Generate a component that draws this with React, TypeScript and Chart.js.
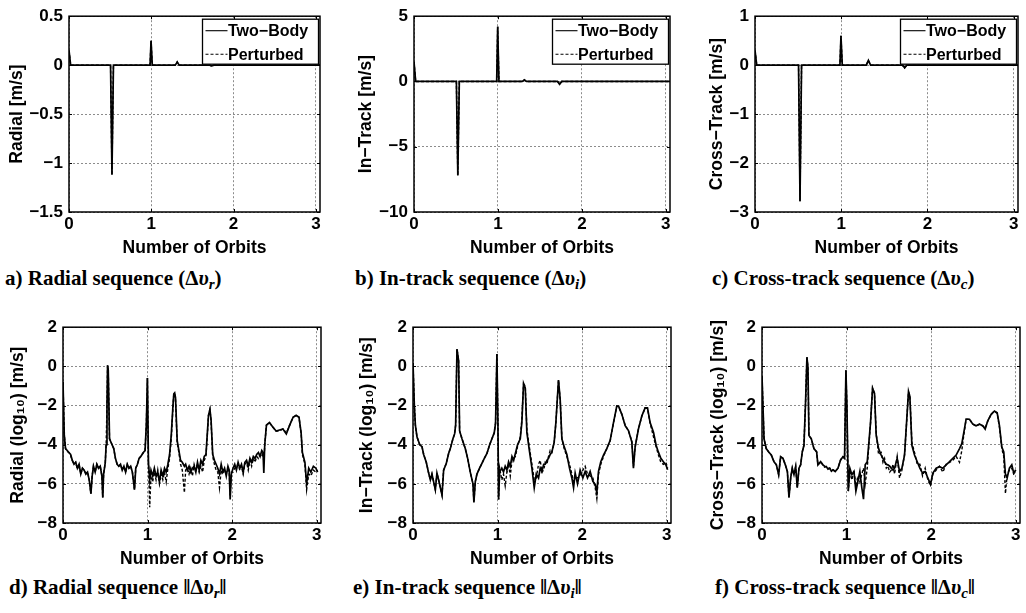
import React, { useEffect, useRef } from 'react';
import { Chart, registerables } from 'chart.js';

Chart.register(...registerables);

const SANS = '"Liberation Sans", Arial, Helvetica, sans-serif';
const SERIF = '"Liberation Serif", "Times New Roman", Times, serif';

// ---------- shared ticks ----------
const X_TICKS = [0, 1, 2, 3];
const X_MAX = 3.05;
const RADIAL_YTICKS = [-1.5, -1, -0.5, 0, 0.5];
const INTRACK_YTICKS = [-10, -5, 0, 5];
const CROSS_YTICKS = [-3, -2, -1, 0, 1];
const LOG_YTICKS = [-8, -6, -4, -2, 0, 2];

// ---------- top row: impulse sequences (m/s) ----------
const TOP_X = [0, 0.02, 0.505, 0.522, 0.54, 0.985, 0.997, 1.012, 1.29, 1.315, 1.34, 1.71, 1.735, 1.76, 3.05];
const RADIAL_TWO = [0.15, 0, 0, -1.12, 0, 0, 0.25, 0, 0, 0.03, 0, 0, -0.008, 0, 0];
const RADIAL_PERT = [0.15, 0, 0, -1.12, 0, 0, 0.25, 0, 0, 0.035, 0, 0, -0.01, 0, 0];
const INTRACK_TWO = [1.5, 0, 0, -7.2, 0, 0, 4.2, 0, 0, 0.12, 0, 0, -0.22, 0, 0];
const INTRACK_PERT = [1.5, 0, 0, -7.2, 0, 0, 4.2, 0, 0, 0.1, 0, 0, -0.2, 0, 0];
const CROSS_TWO = [0.3, 0, 0, -2.78, 0, 0, 0.6, 0, 0, 0.1, 0, 0, -0.05, 0, 0];
const CROSS_PERT = [0.3, 0, 0, -2.78, 0, 0, 0.6, 0, 0, 0.09, 0, 0, -0.06, 0, 0];

// ---------- bottom row: log10 magnitudes ----------
const RLOG_X = [0, 0.015, 0.03, 0.05, 0.07, 0.09, 0.11, 0.13, 0.15, 0.17, 0.19, 0.21, 0.23, 0.25, 0.27, 0.29, 0.31, 0.33, 0.345, 0.36, 0.38, 0.4, 0.42, 0.44, 0.46, 0.47, 0.48, 0.5, 0.51, 0.52, 0.527, 0.535, 0.55, 0.57, 0.6, 0.62, 0.64, 0.66, 0.68, 0.7, 0.72, 0.74, 0.76, 0.78, 0.8, 0.82, 0.845, 0.86, 0.88, 0.9, 0.92, 0.95, 0.97, 0.985, 0.998, 1.01, 1.025, 1.04, 1.06, 1.08, 1.1, 1.12, 1.14, 1.16, 1.18, 1.2, 1.22, 1.24, 1.26, 1.28, 1.3, 1.31, 1.32, 1.33, 1.35, 1.37, 1.39, 1.41, 1.435, 1.45, 1.47, 1.49, 1.51, 1.53, 1.55, 1.57, 1.59, 1.61, 1.63, 1.65, 1.67, 1.69, 1.705, 1.72, 1.737, 1.75, 1.77, 1.79, 1.81, 1.83, 1.85, 1.87, 1.89, 1.91, 1.93, 1.95, 1.965, 1.976, 1.99, 2.01, 2.03, 2.05, 2.07, 2.09, 2.11, 2.13, 2.15, 2.17, 2.19, 2.21, 2.23, 2.25, 2.27, 2.29, 2.31, 2.33, 2.35, 2.365, 2.374, 2.385, 2.405, 2.44, 2.48, 2.52, 2.56, 2.6, 2.64, 2.68, 2.72, 2.756, 2.79, 2.815, 2.83, 2.86, 2.88, 2.905, 2.93, 2.96, 2.99, 3.01];
const RLOG_TWO = [-0.8, -3.5, -4.2, -4.3, -4.4, -4.5, -4.8, -5.0, -4.9, -5.2, -5.0, -5.5, -5.2, -5.3, -5.5, -5.4, -5.8, -6.5, -5.6, -5.1, -5.4, -5.0, -5.2, -5.1, -5.6, -6.7, -5.5, -4.9, -4.0, -2.0, 0.05, -0.2, -3.7, -3.9, -4.2, -4.7, -5.0, -5.1, -5.0, -5.3, -5.1, -5.4, -5.0, -5.2, -5.1, -5.4, -6.3, -5.2, -5.0, -4.7, -4.6, -4.4, -4.3, -3.0, -0.6, -4.9, -5.8, -5.3, -5.6, -5.2, -5.6, -5.4, -5.9, -5.3, -5.6, -5.2, -5.4, -5.0, -4.5, -3.5, -2.0, -1.4, -1.35, -1.6, -3.8, -4.3, -4.8, -4.9, -5.1, -5.0, -5.3, -5.1, -5.4, -5.2, -5.1, -5.4, -4.9, -5.3, -4.8, -5.0, -4.6, -4.5, -3.5, -2.5, -2.2, -2.7, -4.5, -4.8, -5.0, -5.2, -5.5, -5.0, -5.4, -5.2, -5.6, -5.1, -5.3, -6.8, -5.5, -5.2, -5.0, -5.3, -4.9, -5.2, -5.0, -5.4, -4.9, -4.8, -5.1, -4.7, -4.9, -4.6, -4.7, -4.5, -4.4, -4.6, -4.3, -4.4, -5.45, -4.0, -3.0, -2.87, -3.1, -3.3, -3.25, -3.2, -3.45, -3.0, -2.6, -2.5, -2.6, -3.4, -4.4, -4.9, -6.0, -5.2, -5.4, -5.1, -5.2, -5.4];
const RLOG_PERT = [-0.8, -3.5, -4.2, -4.35, -4.4, -4.55, -4.8, -5.0, -4.9, -5.25, -5.0, -5.5, -5.2, -5.3, -5.45, -5.4, -5.8, -6.5, -5.6, -5.1, -5.4, -5.0, -5.2, -5.1, -5.6, -6.7, -5.5, -4.9, -4.0, -2.0, 0.05, -0.2, -3.7, -3.9, -4.2, -4.7, -5.0, -5.1, -5.0, -5.3, -5.1, -5.4, -5.0, -5.2, -5.1, -5.4, -6.3, -5.2, -5.0, -4.7, -4.6, -4.4, -4.3, -3.0, -0.6, -4.9, -7.2, -5.6, -5.9, -5.4, -5.8, -5.3, -6.0, -5.5, -5.8, -5.4, -5.9, -5.2, -4.7, -3.7, -2.1, -1.4, -1.4, -1.7, -3.9, -4.4, -5.0, -5.3, -6.45, -5.3, -5.2, -5.5, -5.2, -5.6, -5.0, -5.3, -5.0, -5.4, -5.1, -5.4, -4.8, -4.6, -3.6, -2.5, -2.2, -2.8, -4.6, -5.0, -5.3, -5.4, -6.2, -5.3, -5.5, -5.3, -5.5, -5.3, -5.4, -6.6, -5.4, -5.4, -5.2, -5.1, -5.0, -5.3, -5.1, -5.5, -5.0, -4.9, -5.3, -4.8, -5.1, -4.7, -4.9, -4.6, -4.7, -4.5, -4.6, -4.4, -4.9, -4.0, -3.0, -2.87, -3.1, -3.3, -3.3, -3.2, -3.4, -3.0, -2.6, -2.5, -2.6, -3.4, -4.5, -5.0, -6.3, -5.5, -5.6, -5.3, -5.4, -5.3];

const ILOG_X = [0, 0.016, 0.028, 0.047, 0.08, 0.106, 0.126, 0.157, 0.185, 0.205, 0.224, 0.244, 0.264, 0.283, 0.303, 0.343, 0.362, 0.394, 0.421, 0.441, 0.472, 0.492, 0.504, 0.52, 0.539, 0.551, 0.579, 0.618, 0.646, 0.677, 0.709, 0.72, 0.736, 0.756, 0.787, 0.815, 0.843, 0.874, 0.906, 0.933, 0.96, 0.976, 0.992, 1.004, 1.012, 1.024, 1.05, 1.07, 1.09, 1.11, 1.13, 1.15, 1.17, 1.19, 1.21, 1.236, 1.268, 1.287, 1.307, 1.327, 1.346, 1.378, 1.406, 1.433, 1.457, 1.484, 1.504, 1.524, 1.545, 1.563, 1.583, 1.602, 1.622, 1.642, 1.669, 1.689, 1.72, 1.74, 1.76, 1.787, 1.819, 1.85, 1.878, 1.898, 1.917, 1.945, 1.976, 2.008, 2.035, 2.063, 2.094, 2.126, 2.154, 2.173, 2.193, 2.22, 2.252, 2.291, 2.331, 2.37, 2.409, 2.43, 2.469, 2.508, 2.547, 2.587, 2.606, 2.626, 2.665, 2.705, 2.744, 2.772, 2.803, 2.843, 2.874, 2.9, 2.93, 2.96, 2.99, 3.01];
const ILOG_TWO = [0.17, -2.0, -3.0, -3.6, -4.0, -4.1, -4.5, -4.9, -5.45, -5.8, -5.5, -5.9, -6.3, -5.45, -5.8, -6.57, -5.3, -4.95, -4.45, -4.2, -3.7, -3.45, -3.0, 0.88, 0.3, -3.3, -3.7, -4.2, -4.7, -5.4, -6.0, -6.95, -5.9, -5.5, -5.2, -4.95, -4.7, -4.45, -4.0, -3.7, -3.4, -2.9, 0.63, -2.9, -6.8, -5.4, -5.2, -5.4, -5.1, -5.3, -4.87, -5.1, -4.6, -4.8, -4.45, -4.0, -3.7, -2.87, -0.87, -1.1, -3.37, -4.37, -5.2, -6.2, -5.5, -5.7, -5.2, -5.37, -5.0, -5.0, -4.8, -4.7, -4.5, -4.37, -3.87, -2.87, -0.7, -1.7, -3.7, -4.1, -4.5, -5.2, -5.7, -6.2, -5.45, -6.0, -5.3, -5.7, -5.37, -5.7, -5.37, -5.87, -6.03, -6.45, -5.37, -4.87, -4.53, -4.2, -3.78, -2.87, -2.03, -2.03, -2.45, -3.03, -3.28, -3.87, -5.2, -4.12, -3.2, -2.53, -2.12, -2.12, -2.87, -3.37, -4.03, -4.37, -4.7, -4.87, -5.03, -5.28];
const ILOG_PERT = [0.17, -2.0, -3.0, -3.6, -4.0, -4.1, -4.5, -4.9, -5.45, -5.8, -5.5, -5.9, -6.3, -5.45, -5.8, -6.57, -5.3, -4.95, -4.45, -4.2, -3.7, -3.45, -3.0, 0.88, 0.3, -3.3, -3.7, -4.2, -4.7, -5.4, -6.0, -6.95, -5.9, -5.5, -5.2, -4.95, -4.7, -4.45, -4.0, -3.7, -3.4, -2.9, 0.63, -2.9, -6.8, -5.2, -5.8, -5.5, -6.1, -5.4, -5.0, -5.6, -4.8, -4.7, -4.6, -4.1, -3.6, -2.7, -0.9, -1.0, -3.2, -4.2, -5.0, -5.8, -5.7, -5.0, -4.8, -5.4, -5.3, -4.9, -5.0, -4.6, -4.3, -4.4, -3.9, -2.9, -0.7, -1.7, -3.7, -4.2, -4.6, -5.0, -5.5, -5.9, -5.6, -5.7, -5.6, -5.3, -5.1, -5.5, -5.6, -5.7, -6.2, -6.75, -5.5, -5.0, -4.6, -4.2, -3.8, -2.9, -2.03, -2.05, -2.45, -3.0, -3.3, -3.8, -5.1, -4.1, -3.2, -2.55, -2.12, -2.15, -2.9, -3.6, -4.1, -4.5, -4.9, -5.0, -4.9, -5.2];

const CLOG_X = [0, 0.024, 0.05, 0.079, 0.11, 0.142, 0.17, 0.197, 0.22, 0.248, 0.276, 0.3, 0.319, 0.339, 0.358, 0.378, 0.398, 0.417, 0.437, 0.457, 0.476, 0.496, 0.516, 0.531, 0.543, 0.555, 0.583, 0.614, 0.646, 0.661, 0.693, 0.72, 0.74, 0.76, 0.78, 0.8, 0.82, 0.839, 0.866, 0.898, 0.929, 0.957, 0.976, 0.992, 1.004, 1.02, 1.039, 1.063, 1.087, 1.11, 1.134, 1.157, 1.18, 1.2, 1.22, 1.244, 1.264, 1.283, 1.307, 1.33, 1.35, 1.378, 1.409, 1.43, 1.449, 1.47, 1.488, 1.51, 1.528, 1.55, 1.567, 1.598, 1.626, 1.654, 1.685, 1.709, 1.732, 1.748, 1.772, 1.803, 1.835, 1.866, 1.898, 1.929, 1.961, 1.992, 2.02, 2.059, 2.098, 2.138, 2.177, 2.217, 2.256, 2.295, 2.335, 2.362, 2.386, 2.413, 2.453, 2.492, 2.531, 2.571, 2.61, 2.638, 2.669, 2.709, 2.748, 2.78, 2.807, 2.835, 2.858, 2.878, 2.898, 2.925, 2.953, 2.976, 3.0];
const CLOG_TWO = [-0.5, -3.7, -4.2, -4.37, -4.53, -4.87, -5.03, -5.53, -4.62, -4.7, -5.03, -5.37, -6.7, -5.7, -5.2, -5.53, -5.12, -6.2, -5.2, -5.03, -4.37, -4.03, -1.7, 0.47, -0.03, -3.53, -3.7, -4.2, -4.37, -5.03, -4.87, -5.03, -5.1, -5.12, -5.25, -5.2, -5.35, -5.28, -5.37, -5.2, -4.78, -4.62, -4.7, -0.2, -2.03, -6.37, -5.2, -5.53, -5.37, -6.37, -5.87, -5.37, -6.2, -6.78, -5.03, -4.87, -3.87, -2.87, -1.12, -1.37, -3.53, -4.2, -4.53, -4.7, -4.87, -5.0, -5.03, -5.1, -5.2, -5.3, -5.2, -4.7, -5.37, -5.2, -4.53, -2.87, -1.28, -1.53, -4.03, -4.53, -4.87, -5.2, -5.45, -5.37, -5.7, -6.03, -5.45, -5.2, -5.12, -5.2, -5.03, -4.87, -4.7, -4.53, -4.2, -3.95, -3.37, -2.7, -2.7, -2.95, -3.03, -2.95, -3.03, -3.2, -2.78, -2.45, -2.28, -2.37, -3.03, -4.12, -4.37, -5.53, -5.7, -5.2, -5.03, -5.45, -5.28];
const CLOG_PERT = [-0.5, -3.7, -4.2, -4.37, -4.53, -4.87, -5.03, -5.53, -4.62, -4.7, -5.03, -5.37, -6.7, -5.7, -5.2, -5.53, -5.12, -6.2, -5.2, -5.03, -4.37, -4.03, -1.7, 0.47, -0.03, -3.53, -3.7, -4.2, -4.37, -5.03, -4.87, -5.03, -5.15, -5.12, -5.2, -5.2, -5.3, -5.28, -5.37, -5.2, -4.78, -4.62, -4.7, -0.2, -2.03, -6.37, -5.4, -5.8, -5.3, -6.1, -5.6, -5.9, -5.5, -5.2, -6.0, -5.2, -4.0, -2.9, -1.1, -1.4, -3.4, -4.5, -4.4, -4.9, -4.7, -5.2, -5.1, -5.4, -5.3, -5.0, -5.5, -4.6, -5.7, -5.3, -4.5, -2.9, -1.3, -1.5, -3.9, -4.4, -5.0, -5.0, -5.6, -5.2, -5.8, -6.1, -5.5, -5.3, -5.1, -5.4, -5.0, -4.9, -4.8, -4.6, -4.9, -4.3, -3.5, -2.7, -2.7, -2.95, -3.05, -2.95, -3.05, -3.15, -2.8, -2.45, -2.28, -2.4, -3.1, -4.2, -4.6, -6.5, -5.5, -5.3, -5.2, -5.5, -5.4];

// ---------- labels ----------
const SERIES_LABELS = ['Two\u2212Body', 'Perturbed'];
const X_TITLE = 'Number of Orbits';

type PanelSpec = {
  left: number;
  top: number;
  width: number;
  yAxisW: number;
  padRight: number;
  yTitle: string;
  yTicks: number[];
  xs: number[];
  two: number[];
  pert: number[];
  legend: boolean;
};

const fmt = (v: number) => String(v).replace('-', '\u2212');

const framePlugin = {
  id: 'frameLegend',
  afterDatasetsDraw(chart: any, _args: any, opts: any) {
    const { ctx, chartArea: ca } = chart;
    ctx.save();
    // small inward tick marks, MATLAB style
    ctx.strokeStyle = '#000';
    ctx.lineWidth = 1;
    ctx.setLineDash([]);
    const xs = chart.scales.x;
    const ys = chart.scales.y;
    const tl = 3;
    ctx.beginPath();
    xs.ticks.forEach((t: any) => {
      const px = Math.round(xs.getPixelForValue(t.value)) + 0.5;
      ctx.moveTo(px, ca.bottom);
      ctx.lineTo(px, ca.bottom - tl);
      ctx.moveTo(px, ca.top);
      ctx.lineTo(px, ca.top + tl);
    });
    ys.ticks.forEach((t: any) => {
      const py = Math.round(ys.getPixelForValue(t.value)) + 0.5;
      ctx.moveTo(ca.left, py);
      ctx.lineTo(ca.left + tl, py);
      ctx.moveTo(ca.right, py);
      ctx.lineTo(ca.right - tl, py);
    });
    ctx.stroke();
    if (opts && opts.legend) {
      const w = 116;
      const h = 45;
      const bx = ca.right - 1.5 - w;
      const by = ca.top + 3;
      ctx.fillStyle = '#ffffff';
      ctx.fillRect(bx, by, w, h);
      ctx.strokeStyle = '#000';
      ctx.lineWidth = 1.3;
      ctx.strokeRect(bx, by, w, h);
      chart.data.datasets.forEach((ds: any, i: number) => {
        const y = by + 11.5 + i * 23.5;
        ctx.beginPath();
        ctx.setLineDash(ds.borderDash || []);
        ctx.lineWidth = 1.1;
        ctx.strokeStyle = '#000';
        ctx.moveTo(bx + 3, y);
        ctx.lineTo(bx + 25, y);
        ctx.stroke();
        ctx.setLineDash([]);
        ctx.fillStyle = '#000';
        ctx.font = `bold 16px ${SANS}`;
        ctx.textBaseline = 'middle';
        ctx.textAlign = 'left';
        ctx.fillText(ds.label, bx + 25.5, y + 1);
      });
    }
    ctx.setLineDash([]);
    ctx.strokeStyle = '#000';
    ctx.lineWidth = 1.5;
    ctx.strokeRect(ca.left, ca.top, ca.right - ca.left, ca.bottom - ca.top);
    ctx.restore();
  },
};

const CANVAS_H = 259;

function buildConfig(spec: PanelSpec): any {
  const tickFont = { family: SANS, size: 17, weight: 'bold' as const };
  const titleFont = { family: SANS, size: 17.5, weight: 'bold' as const };
  const grid = { display: true, color: '#8c8c8c', lineWidth: 1, drawTicks: false, drawOnChartArea: true };
  const border = { display: false, dash: [2, 2] };
  return {
    type: 'line',
    data: {
      datasets: [
        {
          label: SERIES_LABELS[0],
          data: spec.xs.map((x, i) => ({ x, y: spec.two[i] })),
          borderColor: '#000',
          borderWidth: 1.7,
          pointRadius: 0,
          tension: 0,
          fill: false,
        },
        {
          label: SERIES_LABELS[1],
          data: spec.xs.map((x, i) => ({ x, y: spec.pert[i] })),
          borderColor: '#000',
          borderWidth: 1.4,
          borderDash: [3, 2],
          pointRadius: 0,
          tension: 0,
          fill: false,
        },
      ],
    },
    options: {
      animation: false,
      responsive: false,
      maintainAspectRatio: false,
      layout: { padding: { left: 0, top: 12, right: spec.padRight, bottom: 0 } },
      plugins: {
        legend: { display: false },
        tooltip: { enabled: false },
        frameLegend: { legend: spec.legend },
      },
      scales: {
        x: {
          type: 'linear',
          min: 0,
          max: X_MAX,
          afterBuildTicks: (s: any) => {
            s.ticks = X_TICKS.map((v) => ({ value: v }));
          },
          afterFit: (s: any) => {
            s.height = CANVAS_H - 12 - 200;
          },
          ticks: { font: tickFont, color: '#000', padding: 2, maxRotation: 0, autoSkip: false, callback: (v: number) => fmt(v) },
          grid,
          border,
          title: { display: true, text: X_TITLE, font: titleFont, color: '#000', padding: 0 },
        },
        y: {
          type: 'linear',
          min: spec.yTicks[0],
          max: spec.yTicks[spec.yTicks.length - 1],
          afterBuildTicks: (s: any) => {
            s.ticks = spec.yTicks.map((v) => ({ value: v }));
          },
          afterFit: (s: any) => {
            s.width = spec.yAxisW;
          },
          ticks: { font: tickFont, color: '#000', padding: 6, autoSkip: false, callback: (v: number) => fmt(v) },
          grid,
          border,
          title: { display: true, text: spec.yTitle, font: titleFont, color: '#000', padding: 0 },
        },
      },
    },
    plugins: [framePlugin],
  };
}

function Panel({ spec }: { spec: PanelSpec }) {
  const ref = useRef<HTMLCanvasElement | null>(null);
  useEffect(() => {
    if (!ref.current) return;
    const chart = new Chart(ref.current, buildConfig(spec));
    return () => chart.destroy();
  }, [spec]);
  return (
    <canvas
      ref={ref}
      width={spec.width}
      height={CANVAS_H}
      style={{ position: 'absolute', left: spec.left, top: spec.top, width: spec.width, height: CANVAS_H }}
    />
  );
}

const PANELS: PanelSpec[] = [
  { left: 7, top: 0, width: 328, yAxisW: 62, padRight: 15, yTitle: 'Radial [m/s]', yTicks: RADIAL_YTICKS, xs: TOP_X, two: RADIAL_TWO, pert: RADIAL_PERT, legend: true },
  { left: 356, top: 0, width: 329, yAxisW: 58, padRight: 15, yTitle: 'In\u2212Track [m/s]', yTicks: INTRACK_YTICKS, xs: TOP_X, two: INTRACK_TWO, pert: INTRACK_PERT, legend: true },
  { left: 707, top: 0, width: 319, yAxisW: 48, padRight: 8, yTitle: 'Cross\u2212Track [m/s]', yTicks: CROSS_YTICKS, xs: TOP_X, two: CROSS_TWO, pert: CROSS_PERT, legend: true },
  { left: 8, top: 311, width: 328, yAxisW: 55, padRight: 15, yTitle: 'Radial (log\u2081\u2080) [m/s]', yTicks: LOG_YTICKS, xs: RLOG_X, two: RLOG_TWO, pert: RLOG_PERT, legend: false },
  { left: 357, top: 311, width: 329, yAxisW: 56, padRight: 15, yTitle: 'In\u2212Track (log\u2081\u2080) [m/s]', yTicks: LOG_YTICKS, xs: ILOG_X, two: ILOG_TWO, pert: ILOG_PERT, legend: false },
  { left: 708, top: 311, width: 318, yAxisW: 54, padRight: 6, yTitle: 'Cross\u2212Track (log\u2081\u2080) [m/s]', yTicks: LOG_YTICKS, xs: CLOG_X, two: CLOG_TWO, pert: CLOG_PERT, legend: false },
];

const capStyle = (left: number, top: number): React.CSSProperties => ({
  position: 'absolute',
  left,
  top,
  fontFamily: SERIF,
  fontWeight: 'bold',
  fontSize: 21,
  lineHeight: '20px',
  whiteSpace: 'nowrap',
  color: '#000',
});
const subStyle: React.CSSProperties = { fontSize: '0.72em', lineHeight: 0, verticalAlign: '-0.25em' };

export default function App() {
  return (
    <div style={{ position: 'absolute', left: 0, top: 0, width: 1026, height: 613, overflow: 'hidden', background: '#fff' }}>
      {PANELS.map((p, i) => (
        <Panel key={i} spec={p} />
      ))}
      <div style={capStyle(5, 268)}>
        a) Radial sequence (Δ<i>υ<span style={subStyle}>r</span></i>)
      </div>
      <div style={capStyle(355, 268)}>
        b) In-track sequence (Δ<i>υ<span style={subStyle}>i</span></i>)
      </div>
      <div style={capStyle(712, 268)}>
        c) Cross-track sequence (Δ<i>υ<span style={subStyle}>c</span></i>)
      </div>
      <div style={capStyle(9, 577)}>
        d) Radial sequence ‖Δ<i>υ<span style={subStyle}>r</span></i>‖
      </div>
      <div style={capStyle(353, 577)}>
        e) In-track sequence ‖Δ<i>υ<span style={subStyle}>i</span></i>‖
      </div>
      <div style={capStyle(715, 577)}>
        f) Cross-track sequence ‖Δ<i>υ<span style={subStyle}>c</span></i>‖
      </div>
    </div>
  );
}
